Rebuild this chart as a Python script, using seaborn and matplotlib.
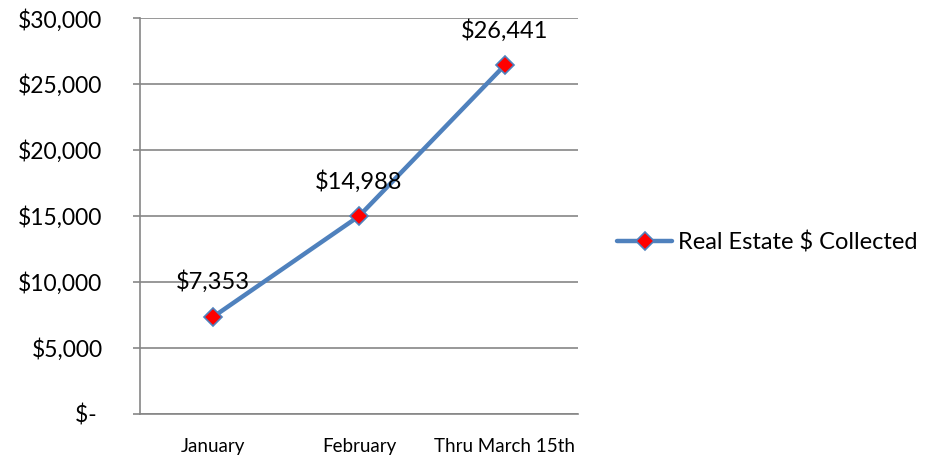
import pandas as pd
import matplotlib.pyplot as plt
import seaborn as sns
from matplotlib.ticker import FuncFormatter

months = ["January", "February", "Thru March 15th"]
collected = [7353, 14988, 26441]
series_name = "Real Estate $ Collected"

df = pd.DataFrame({"Month": months, "Collected": collected, "Series": series_name})

sns.set_style("white")
plt.rcParams["font.family"] = ["Lato", "DejaVu Sans"]
plt.rcParams["text.color"] = "black"
plt.rcParams["xtick.color"] = "black"
plt.rcParams["ytick.color"] = "black"

fig = plt.figure(figsize=(9.41, 4.62), dpi=100)
ax = fig.add_axes([0.1488, 0.1039, 0.4654, 0.8571])

sns.lineplot(data=df, x="Month", y="Collected", hue="Series", palette=["#4F81BD"],
             sort=False, linewidth=3.2, marker="D", markersize=9,
             markerfacecolor="red", markeredgecolor="#4F81BD", markeredgewidth=1.2, ax=ax)

for i, v in enumerate(collected):
    ax.annotate(f"${v:,}", (i, v), xytext=(0, 17), textcoords="offset points",
                ha="center", va="bottom", fontsize=17)

ax.set_xlim(-0.5, 2.5)
ax.set_ylim(0, 30000)
ax.set_yticks(range(0, 30001, 5000))
ax.yaxis.set_major_formatter(FuncFormatter(lambda v, p: "$- " if v == 0 else f"${v:,.0f}"))
ax.set_xticks([0, 1, 2])
ax.set_xticklabels(months, fontsize=13.5)
ax.set_xticks([-0.5, 0.5, 1.5, 2.5], minor=True)
ax.tick_params(axis="x", which="major", length=0, pad=17)
ax.tick_params(axis="x", which="minor", length=5, color="#868686", width=1.2, direction="out")
ax.tick_params(axis="y", labelsize=16.5, length=5, color="#868686", width=1.2, direction="out", pad=22, left=True)
ax.set_xlabel("")
ax.set_ylabel("")

ax.grid(axis="y", color="#868686", linewidth=1.2)
ax.set_axisbelow(True)
for s in ["top", "right"]:
    ax.spines[s].set_visible(False)
for s in ["left", "bottom"]:
    ax.spines[s].set_color("#868686")
    ax.spines[s].set_linewidth(1.2)

leg = ax.legend(loc="center left", bbox_to_anchor=(1.089, 0.434), frameon=False,
                fontsize=17, handlelength=2.35, handletextpad=0.22,
                borderpad=0, borderaxespad=0)

fig.savefig("out.png", dpi=100)
